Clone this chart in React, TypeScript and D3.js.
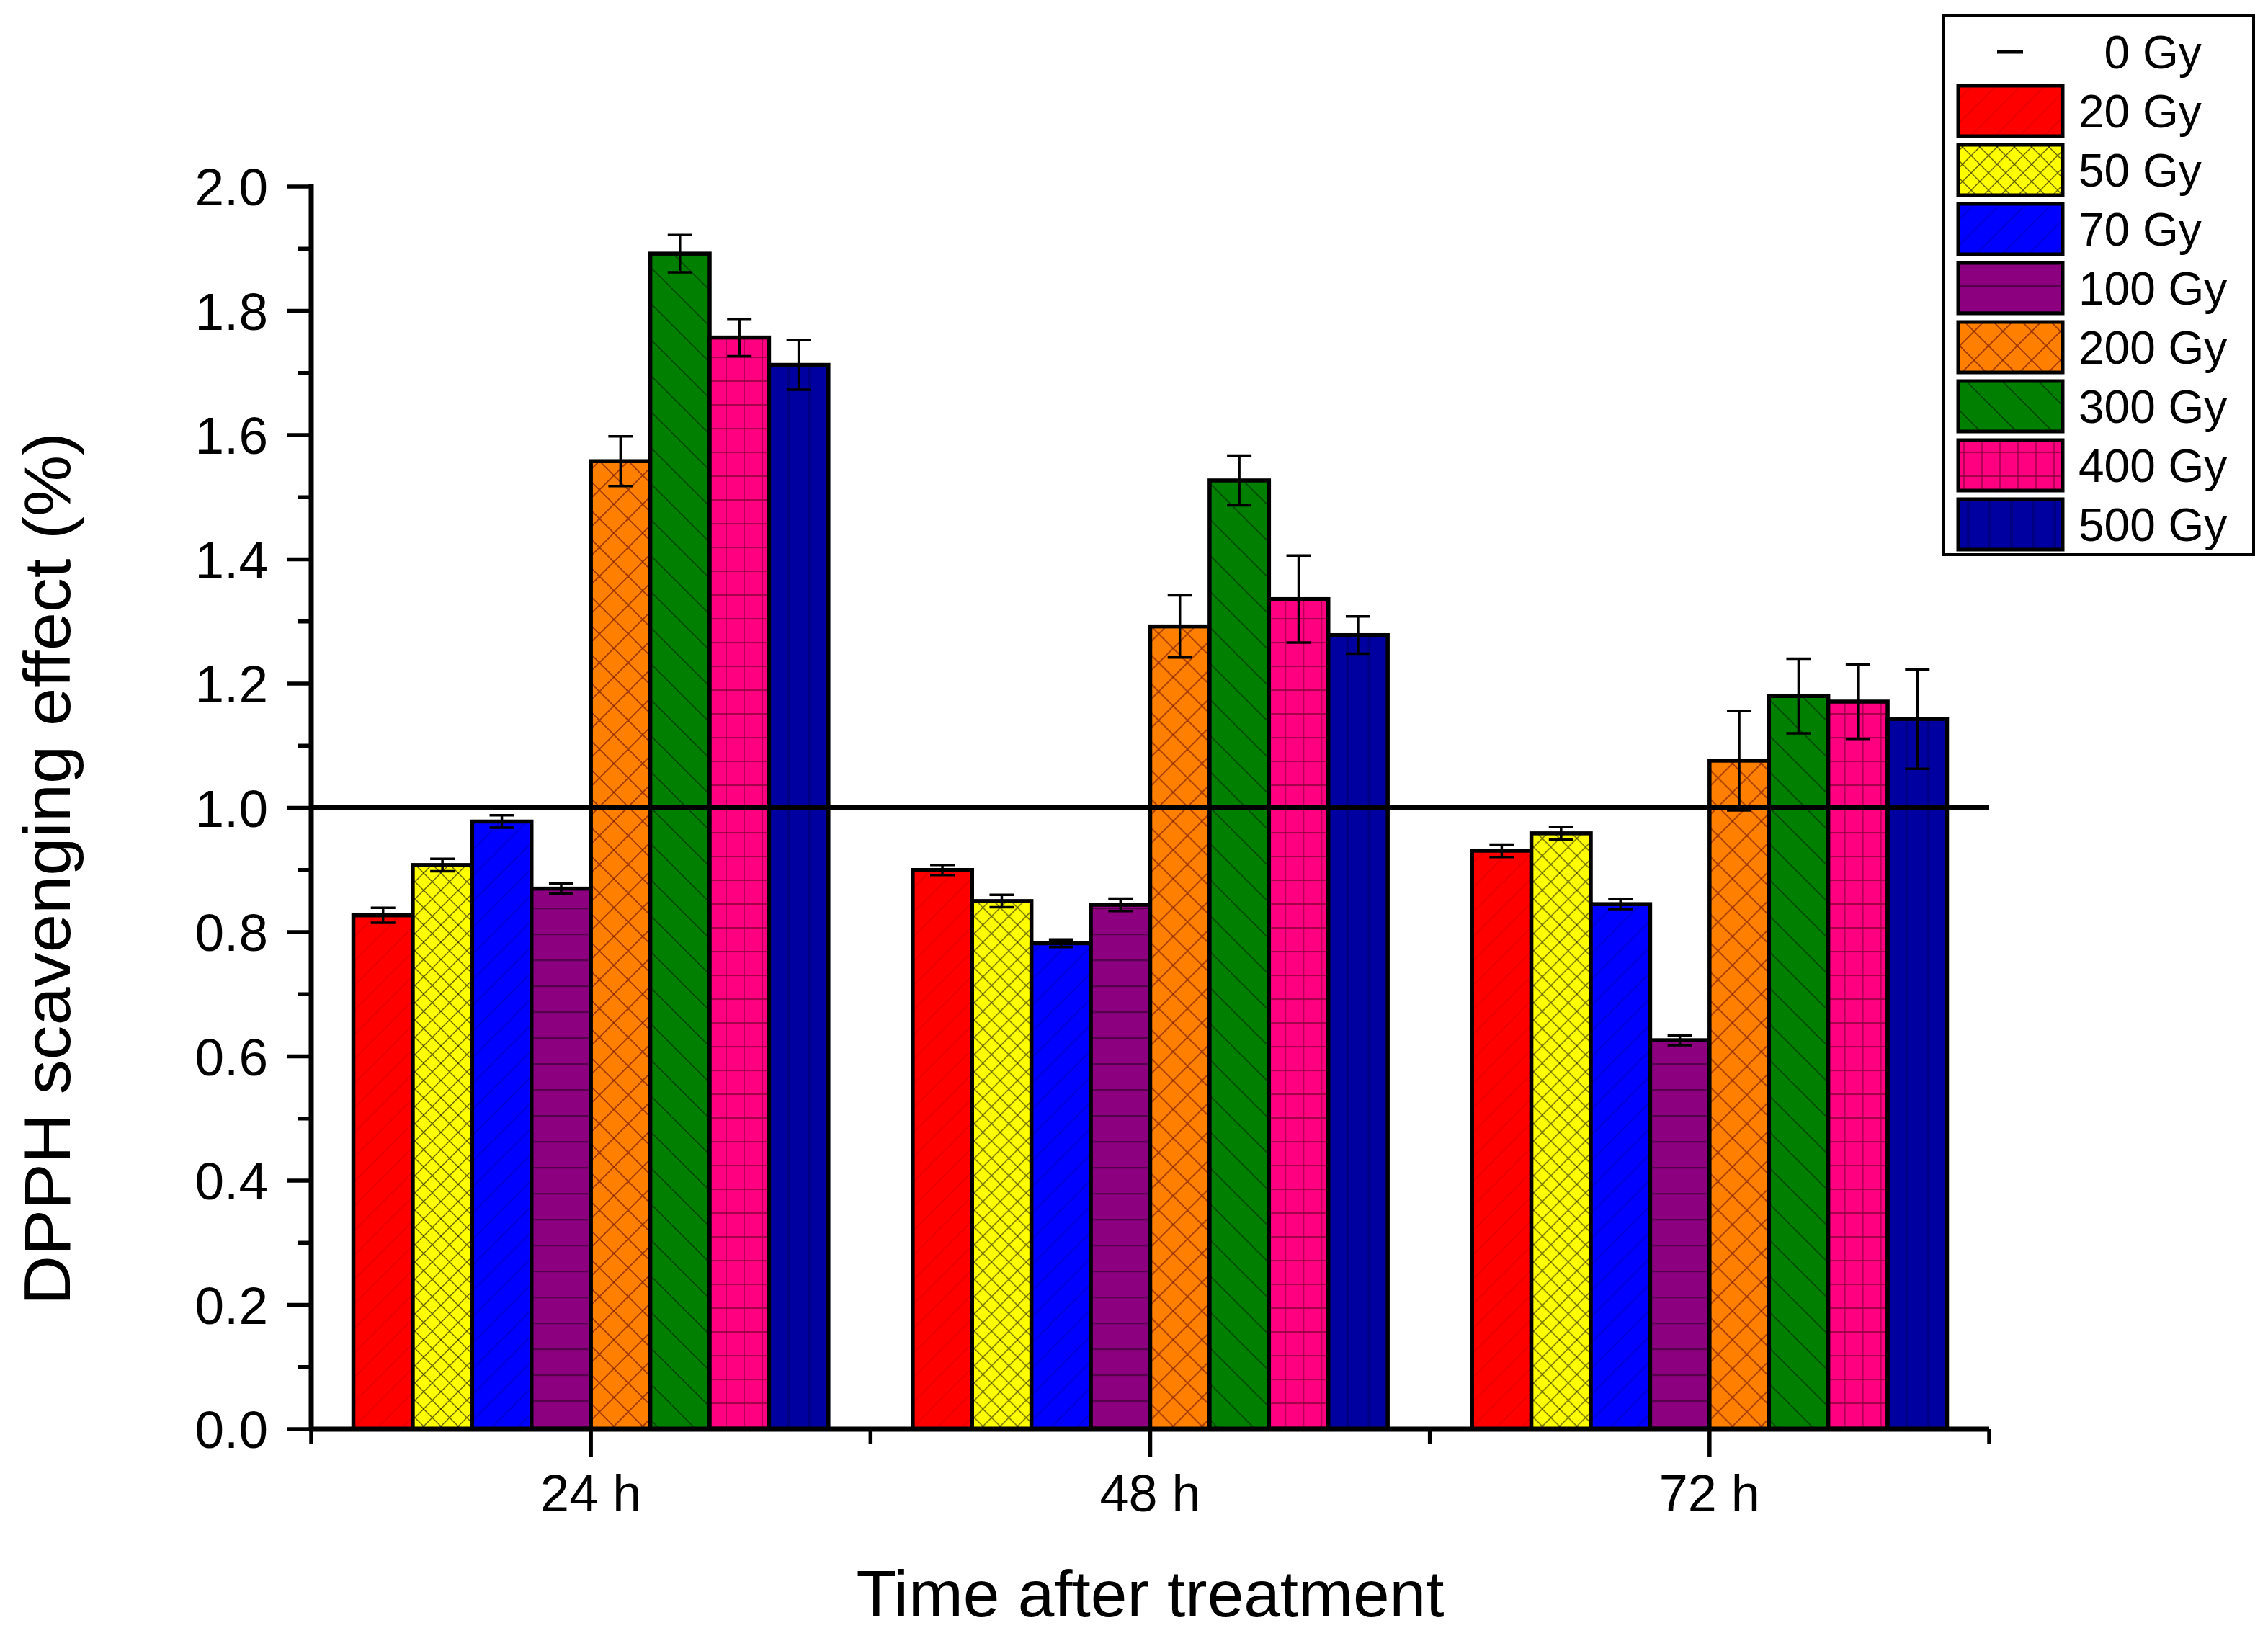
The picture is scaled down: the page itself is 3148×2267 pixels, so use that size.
import React, { useEffect } from 'react';
import * as d3 from 'd3';

const times = ['24 h', '48 h', '72 h'];
const doses = ['20 Gy', '50 Gy', '70 Gy', '100 Gy', '200 Gy', '300 Gy', '400 Gy', '500 Gy'];
const controlLabel = '0 Gy';
const controlValue = 1.0;

// mean values per dose, one array per time point
const means24 = [0.827, 0.908, 0.978, 0.870, 1.558, 1.892, 1.757, 1.713];
const means48 = [0.900, 0.850, 0.782, 0.844, 1.292, 1.527, 1.336, 1.278];
const means72 = [0.931, 0.959, 0.845, 0.626, 1.076, 1.180, 1.171, 1.143];
// error bar half-widths
const err24 = [0.012, 0.010, 0.010, 0.008, 0.040, 0.030, 0.030, 0.040];
const err48 = [0.008, 0.010, 0.006, 0.010, 0.050, 0.040, 0.070, 0.030];
const err72 = [0.010, 0.010, 0.008, 0.008, 0.080, 0.060, 0.060, 0.080];

const yDomain = [0, 2];

const means = [means24, means48, means72];
const errs = [err24, err48, err72];

const fills = ['#ff0000', '#ffff00', '#0000ff', '#8c0080', '#ff8000', '#007f00', '#ff0080', '#0000a0'];

const W = 3148;
const H = 2267;
const left = 432;
const right = 2761;
const top = 259;
const bottom = 1984;
const font = 'Liberation Sans, Arial, Helvetica, sans-serif';

// hatch pattern for each dose
const Pattern: React.FC<{ id: string; i: number }> = ({ id, i }) => {
  const base = fills[i];
  const line = (x1: number, y1: number, x2: number, y2: number, stroke: string, sw: number, op = 1) => (
    <line x1={x1} y1={y1} x2={x2} y2={y2} stroke={stroke} strokeWidth={sw} strokeOpacity={op} />
  );
  let s = 40;
  let h = 40;
  let body: React.ReactNode = null;
  switch (i) {
    case 0:
      s = 34; h = 34;
      body = <>{line(0, h, s, 0, '#900000', 1.5, 0.25)}</>;
      break;
    case 1:
      s = 24; h = 24;
      body = <>{line(0, 0, s, h, '#000', 1.4, 0.6)}{line(0, h, s, 0, '#000', 1.4, 0.6)}</>;
      break;
    case 2:
      s = 36; h = 36;
      body = <>{line(0, h, s, 0, '#000080', 2, 0.3)}</>;
      break;
    case 3:
      s = 40; h = 36;
      body = <>{line(0, 1, s, 1, '#4a0040', 2.5, 0.8)}</>;
      break;
    case 4:
      s = 40; h = 40;
      body = <>{line(0, h, s, 0, '#7a1a00', 1.8, 0.7)}{line(0, 0, s, h, '#7a1a00', 1.8, 0.7)}</>;
      break;
    case 5:
      s = 50; h = 50;
      body = <>{line(0, 0, s, h, '#002000', 1.6, 0.6)}</>;
      break;
    case 6:
      s = 25; h = 33;
      body = <>{line(0, 1, s, 1, '#900040', 2.2, 0.8)}{line(1, 0, 1, h, '#900040', 2, 0.65)}</>;
      break;
    case 7:
      s = 30; h = 40;
      body = <>{line(2, 0, 2, h, '#000060', 4, 0.45)}</>;
      break;
  }
  return (
    <pattern id={id} patternUnits="userSpaceOnUse" width={s} height={h}>
      <rect width={s} height={h} fill={base} />
      {body}
    </pattern>
  );
};

const App: React.FC = () => {
  useEffect(() => {
    document.body.style.margin = '0';
    document.body.style.overflow = 'hidden';
  }, []);

  const x0 = d3.scaleBand<string>().domain(times).range([left, right]).padding(0);
  const x1 = d3.scaleBand<string>().domain(doses).range([0, x0.bandwidth()]).paddingInner(0).paddingOuter(0.71);
  const y = d3.scaleLinear().domain(yDomain).range([bottom, top]);

  const majors = y.ticks(10);
  const minors = y.ticks(20).filter((t) => !majors.some((m) => Math.abs(m - t) < 1e-9));
  const fmt = d3.format('.1f');

  const boundaries = times.map((t) => x0(t) as number).concat([right]);

  const legendX = 2697;
  const legendY = 22;
  const legendRow = d3.scalePoint<string>().domain([controlLabel, ...doses]).range([72, 72 + 82 * doses.length]);

  return (
    <svg width={W} height={H} viewBox={`0 0 ${W} ${H}`} style={{ display: 'block', background: '#fff' }}>
      <defs>
        {doses.map((d, i) => (
          <Pattern key={d} id={`pat${i}`} i={i} />
        ))}
      </defs>

      {/* bars */}
      {times.map((t, ti) => (
        <g key={t} transform={`translate(${x0(t)},0)`}>
          {doses.map((d, di) => (
            <rect
              key={d}
              x={x1(d)}
              y={y(means[ti][di])}
              width={x1.bandwidth()}
              height={y(0) - y(means[ti][di])}
              fill={`url(#pat${di})`}
              stroke="#000"
              strokeWidth={5.5}
            />
          ))}
          {doses.map((d, di) => {
            const cx = (x1(d) as number) + x1.bandwidth() / 2;
            const hi = y(means[ti][di] + errs[ti][di]);
            const lo = y(means[ti][di] - errs[ti][di]);
            return (
              <g key={d} stroke="#000" strokeWidth={3.5}>
                <line x1={cx} x2={cx} y1={hi} y2={lo} />
                <line x1={cx - 17} x2={cx + 17} y1={hi} y2={hi} />
                <line x1={cx - 17} x2={cx + 17} y1={lo} y2={lo} />
              </g>
            );
          })}
        </g>
      ))}

      {/* control reference line */}
      <line x1={left} x2={right} y1={y(controlValue)} y2={y(controlValue)} stroke="#000" strokeWidth={7} />

      {/* y axis */}
      <line x1={left} x2={left} y1={top - 3} y2={bottom + 3} stroke="#000" strokeWidth={7} />
      {majors.map((t) => (
        <g key={`M${t}`}>
          <line x1={left - 34} x2={left} y1={y(t)} y2={y(t)} stroke="#000" strokeWidth={5.5} />
          <text x={372} y={y(t)} dy="0.36em" textAnchor="end" fontFamily={font} fontSize={73} fill="#000">
            {fmt(t)}
          </text>
        </g>
      ))}
      {minors.map((t) => (
        <line key={`m${t}`} x1={left - 19} x2={left} y1={y(t)} y2={y(t)} stroke="#000" strokeWidth={5.5} />
      ))}

      {/* x axis */}
      <line x1={left - 3} x2={right} y1={bottom} y2={bottom} stroke="#000" strokeWidth={7} />
      {boundaries.map((b, i) => (
        <line key={`b${i}`} x1={b} x2={b} y1={bottom} y2={bottom + 20} stroke="#000" strokeWidth={5.5} />
      ))}
      {times.map((t) => {
        const cx = (x0(t) as number) + x0.bandwidth() / 2;
        return (
          <g key={t}>
            <line x1={cx} x2={cx} y1={bottom} y2={bottom + 38} stroke="#000" strokeWidth={5.5} />
            <text x={cx} y={2098} textAnchor="middle" fontFamily={font} fontSize={72} fill="#000">
              {t}
            </text>
          </g>
        );
      })}

      {/* axis titles */}
      <text x={(left + right) / 2} y={2244} textAnchor="middle" fontFamily={font} fontSize={91} fill="#000">
        Time after treatment
      </text>
      <text
        transform={`translate(97,1206) rotate(-90)`}
        textAnchor="middle"
        fontFamily={font}
        fontSize={91}
        textLength={1212}
        lengthAdjust="spacingAndGlyphs"
        fill="#000"
      >
        DPPH scavenging effect (%)
      </text>

      {/* legend */}
      <rect x={legendX} y={legendY} width={431} height={748} fill="#fff" stroke="#000" strokeWidth={4} />
      <line
        x1={2772}
        x2={2808}
        y1={legendRow(controlLabel)}
        y2={legendRow(controlLabel)}
        stroke="#000"
        strokeWidth={5}
      />
      <text
        x={2885 + 0.556 * 64}
        y={legendRow(controlLabel)}
        dy="0.36em"
        fontFamily={font}
        fontSize={64}
        fill="#000"
      >
        {controlLabel}
      </text>
      {doses.map((d, i) => {
        const cy = legendRow(d) as number;
        return (
          <g key={d}>
            <rect x={2718} y={cy - 35} width={145} height={70} fill={`url(#pat${i})`} stroke="#000" strokeWidth={5} />
            <text x={2885} y={cy} dy="0.36em" fontFamily={font} fontSize={64} fill="#000">
              {d}
            </text>
          </g>
        );
      })}
    </svg>
  );
};

export default App;
